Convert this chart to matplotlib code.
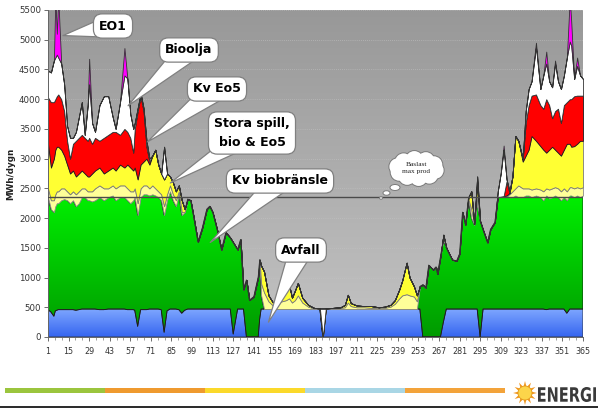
import numpy as np
import matplotlib
matplotlib.use("Agg")
import matplotlib.pyplot as plt
from matplotlib.colors import LinearSegmentedColormap
from matplotlib.patches import Rectangle, Ellipse, Polygon, Circle, PathPatch
from matplotlib.path import Path
from matplotlib.textpath import TextPath
from matplotlib.font_manager import FontProperties
from matplotlib.transforms import Affine2D

# day of year (irregular sampling)
days = [1, 3, 5, 6, 7, 8, 10, 12, 14, 16,
        18, 20, 22, 24, 26, 28, 29, 31, 33, 36,
        39, 42, 45, 47, 50, 53, 55, 57, 59, 60,
        62, 64, 66, 68, 70, 72, 74, 76, 78, 80,
        82, 84, 86, 88, 90, 92, 94, 96, 98, 100,
        103, 106, 109, 111, 113, 116, 119, 122, 125, 127,
        130, 132, 134, 136, 138, 141, 144, 145, 146, 148,
        151, 154, 157, 160, 163, 165, 167, 169, 171, 174,
        178, 182, 186, 188, 190, 195, 200, 203, 205, 207,
        211, 216, 221, 226, 230, 234, 237, 240, 242, 245,
        247, 250, 252, 254, 256, 258, 260, 263, 265, 266,
        268, 270, 272, 274, 276, 279, 281, 283, 285, 287,
        289, 291, 293, 295, 297, 300, 302, 305, 307, 309,
        311, 313, 315, 317, 319, 321, 324, 326, 328, 330,
        333, 336, 338, 340, 342, 344, 346, 348, 350, 352,
        354, 356, 357, 359, 361, 363, 365]

# MWh/dygn per production source (stacked)
avfall = [460, 420, 350, 440, 450, 460, 460, 460, 460, 460,
          460, 450, 460, 470, 470, 470, 470, 470, 470, 460,
          460, 470, 470, 470, 470, 470, 460, 460, 460, 450,
          180, 460, 460, 460, 470, 470, 470, 470, 460, 80,
          440, 470, 470, 470, 460, 400, 450, 470, 470, 470,
          470, 470, 470, 470, 470, 470, 470, 470, 470, 50,
          470, 470, 470, 0, 0, 0, 0, 300, 470, 470,
          470, 470, 470, 470, 470, 470, 470, 470, 470, 470,
          470, 470, 470, 0, 470, 470, 470, 470, 470, 470,
          470, 470, 470, 470, 470, 470, 470, 470, 470, 470,
          470, 470, 470, 470, 0, 0, 0, 0, 0, 0,
          0, 250, 470, 470, 470, 470, 470, 470, 470, 470,
          470, 470, 470, 0, 470, 470, 470, 470, 470, 470,
          470, 470, 470, 470, 470, 470, 470, 470, 470, 470,
          470, 470, 470, 460, 470, 470, 470, 470, 470, 470,
          400, 470, 470, 470, 470, 470, 470]
kv_bio = [1890, 1730, 1750, 1760, 1800, 1790, 1840, 1860, 1840, 1790,
          1840, 1750, 1790, 1880, 1880, 1830, 1830, 1810, 1830, 1890,
          1840, 1880, 1910, 1830, 1880, 1880, 1840, 1790, 1840, 1900,
          1870, 1890, 1940, 1940, 1910, 1930, 1910, 1880, 1840, 1970,
          1860, 1980, 1830, 1730, 1940, 1650, 1650, 1850, 1830, 1560,
          1130, 1370, 1680, 1730, 1630, 1340, 1000, 1290, 1200, 1540,
          1000, 1170, 330, 960, 620, 680, 1010, 1000, 230, 0,
          0, 0, 0, 0, 0, 0, 0, 0, 0, 0,
          0, 0, 0, 0, 0, 0, 0, 0, 0, 0,
          0, 0, 0, 0, 0, 0, 0, 0, 0, 0,
          0, 0, 0, 380, 880, 830, 1210, 1130, 1180, 1060,
          1350, 1390, 1030, 930, 830, 810, 930, 1630, 1420, 1850,
          1530, 1420, 1780, 1950, 1330, 1120, 1340, 1460, 1880, 1890,
          1900, 1910, 1880, 1880, 1910, 1880, 1880, 1910, 1910, 1880,
          1910, 1880, 1830, 1920, 1860, 1880, 1910, 1880, 1830, 1880,
          1900, 1910, 1910, 1880, 1910, 1880, 1910]
stora_spill = [150, 150, 200, 200, 200, 200, 200, 180, 150, 150,
               150, 200, 200, 150, 150, 150, 150, 170, 200, 200,
               200, 150, 170, 200, 200, 200, 200, 200, 150, 150,
               200, 150, 150, 150, 120, 150, 120, 100, 100, 150,
               100, 100, 100, 100, 50, 50, 0, 0, 0, 0,
               0, 0, 0, 0, 0, 0, 0, 0, 0, 0,
               0, 0, 0, 0, 0, 0, 0, 0, 200, 280,
               130, 60, 90, 130, 150, 180, 110, 150, 230, 110,
               40, 10, 10, 0, 10, 10, 20, 30, 110, 50,
               30, 30, 20, 20, 20, 40, 90, 180, 230, 250,
               230, 210, 130, 0, 0, 0, 0, 0, 0, 0,
               0, 40, 0, 0, 0, 0, 0, 0, 0, 0,
               150, 0, 100, 0, 0, 0, 0, 0, 0, 0,
               0, 0, 50, 100, 120, 200, 150, 120, 120, 130,
               120, 130, 150, 120, 150, 150, 140, 150, 150, 150,
               150, 140, 140, 150, 140, 150, 140]
bio = [750, 550, 700, 750, 750, 750, 650, 550, 450, 350,
       350, 300, 300, 300, 250, 250, 250, 300, 300, 300,
       250, 300, 300, 300, 350, 300, 400, 400, 350, 350,
       400, 400, 400, 450, 400, 500, 650, 450, 350, 450,
       350, 150, 200, 150, 100, 200, 50, 0, 0, 0,
       0, 0, 0, 0, 0, 0, 0, 0, 0, 0,
       0, 0, 0, 0, 0, 0, 0, 0, 300, 350,
       100, 50, 90, 150, 200, 230, 80, 160, 210, 80,
       30, 10, 0, 0, 0, 10, 10, 40, 130, 50,
       30, 20, 30, 10, 20, 30, 60, 150, 250, 530,
       300, 170, 100, 0, 0, 0, 0, 0, 0, 0,
       0, 40, 0, 0, 0, 0, 0, 0, 0, 30,
       300, 10, 250, 0, 0, 0, 0, 0, 0, 0,
       0, 0, 20, 250, 880, 750, 450, 550, 650, 900,
       800, 730, 700, 600, 670, 700, 630, 600, 600, 650,
       800, 730, 680, 710, 730, 800, 780]
kv_eo5 = [780, 1100, 950, 850, 850, 880, 850, 750, 400, 250,
          450, 600, 600, 600, 600, 600, 650, 500, 550, 450,
          600, 600, 600, 650, 500, 650, 550, 500, 300, 650,
          1150, 1150, 850, 200, 50, 0, 0, 0, 0, 0,
          0, 0, 0, 0, 0, 0, 0, 0, 0, 0,
          0, 0, 0, 0, 0, 0, 0, 0, 0, 0,
          0, 0, 0, 0, 0, 0, 0, 0, 0, 0,
          0, 0, 0, 0, 0, 0, 0, 0, 0, 0,
          0, 0, 0, 0, 0, 0, 0, 0, 0, 0,
          0, 0, 0, 0, 0, 0, 0, 0, 0, 0,
          0, 0, 0, 0, 0, 0, 0, 0, 0, 0,
          0, 0, 0, 0, 0, 0, 0, 0, 0, 0,
          0, 0, 0, 0, 0, 0, 0, 0, 0, 0,
          0, 240, 0, 0, 0, 0, 40, 550, 750, 680,
          780, 690, 690, 900, 750, 480, 650, 740, 550, 750,
          700, 750, 800, 840, 810, 760, 760]
bioolja = [450, 500, 700, 700, 700, 620, 600, 450, 250, 350,
           100, 150, 350, 550, 50, 600, 900, 350, 100, 600,
           700, 650, 250, 50, 550, 900, 900, 400, 400, 100,
           50, 50, 50, 100, 50, 0, 0, 0, 0, 550,
           0, 0, 0, 0, 0, 0, 0, 0, 0, 0,
           0, 0, 0, 0, 0, 0, 0, 0, 0, 0,
           0, 0, 0, 0, 0, 0, 0, 0, 0, 0,
           0, 0, 0, 0, 0, 0, 0, 0, 0, 0,
           0, 0, 0, 480, 0, 0, 0, 0, 0, 0,
           0, 0, 0, 0, 0, 0, 0, 0, 0, 0,
           0, 0, 0, 0, 0, 0, 0, 0, 0, 0,
           0, 0, 0, 0, 0, 0, 0, 0, 0, 0,
           0, 0, 100, 0, 0, 0, 0, 0, 100, 390,
           780, 30, 30, 0, 0, 0, 10, 200, 270, 240,
           800, 270, 560, 600, 400, 520, 800, 460, 570, 500,
           750, 970, 900, 290, 500, 340, 280]
eo1 = [0, 0, 0, 1000, 350, 1000, 0, 0, 0, 0,
       0, 0, 0, 0, 0, 0, 430, 0, 0, 0,
       0, 0, 0, 0, 0, 460, 0, 0, 0, 0,
       0, 0, 0, 0, 0, 0, 0, 0, 0, 0,
       0, 0, 0, 0, 0, 0, 0, 0, 0, 0,
       0, 0, 0, 0, 0, 0, 0, 0, 0, 0,
       0, 0, 0, 0, 0, 0, 0, 0, 0, 0,
       0, 0, 0, 0, 0, 0, 0, 0, 0, 0,
       0, 0, 0, 0, 0, 0, 0, 0, 0, 0,
       0, 0, 0, 0, 0, 0, 0, 0, 0, 0,
       0, 0, 0, 0, 0, 0, 0, 0, 0, 0,
       0, 0, 0, 0, 0, 0, 0, 0, 0, 0,
       0, 0, 0, 0, 0, 0, 0, 0, 0, 0,
       70, 0, 0, 0, 0, 0, 0, 0, 0, 0,
       70, 0, 0, 200, 0, 0, 50, 0, 0, 0,
       0, 730, 400, 0, 140, 0, 0]

baslast = 2350
x_ticks = list(range(1, 366, 14))
y_ticks = list(range(0, 5501, 500))

W, H = 598, 408
fig = plt.figure(figsize=(W / 100, H / 100), dpi=100)
ax = fig.add_axes([48 / W, 1 - 337 / H, (583 - 48) / W, (337 - 10) / H])

# gray gradient plot area
bg = LinearSegmentedColormap.from_list("bg", ["#c3c3c3", "#989898"])
ax.imshow(np.linspace(0, 1, 256).reshape(-1, 1), cmap=bg, origin="lower",
          extent=[1, 365, 0, 5500], aspect="auto", zorder=0)

layers = [avfall, kv_bio, stora_spill, bio, kv_eo5, bioolja, eo1]
faces = ["#4f7ff8", "#00d000", "#ffff99", "#ffff33", "#ff0000", "#ffffff", "#ff00ff"]
edges = ["#333333", "#1a1a1a", "#8c8c8c", "#7a7a7a", "#1a1a1a", "#333333", "#333333"]
polys = ax.stackplot(days, *layers, colors=faces, linewidth=0.6, zorder=2)
for p, ec in zip(polys, edges):
    p.set_edgecolor(ec)


def gradient_fill(poly, c_bot, c_top, y0, y1):
    cmap = LinearSegmentedColormap.from_list("g", [c_bot, c_top])
    im = ax.imshow(np.linspace(0, 1, 256).reshape(-1, 1), cmap=cmap, origin="lower",
                   extent=[1, 365, y0, y1], aspect="auto", zorder=1.9)
    path = Path.make_compound_path(*poly.get_paths())
    im.set_clip_path(path, transform=poly.get_transform())
    poly.set_facecolor("none")


gradient_fill(polys[0], "#3565f0", "#80a8ff", 0, 480)
gradient_fill(polys[1], "#009a00", "#00f200", 0, 2450)

ax.axhline(baslast, color="#4a4a4a", lw=1.0, zorder=4)

ax.set_xlim(1, 365)
ax.set_ylim(0, 5500)
ax.set_axisbelow(True)
ax.yaxis.grid(True, linestyle=(0, (1, 2)), color="#c4c4c4", lw=0.5)
ax.set_xticks(x_ticks)
ax.set_yticks(y_ticks)
ax.set_xticks(np.arange(1, 366, 14 / 3), minor=True)
ax.tick_params(axis="x", labelsize=5.8, colors="#333333", length=3, width=0.5, pad=4)
ax.tick_params(axis="x", which="minor", length=2, width=0.4, colors="#555555")
ax.tick_params(axis="y", labelsize=6.2, colors="#333333", length=3, width=0.5, pad=2)
for s in ["top", "right"]:
    ax.spines[s].set_visible(False)
for s in ["left", "bottom"]:
    ax.spines[s].set_color("#666666")
    ax.spines[s].set_linewidth(0.7)
ax.set_ylabel("MWh/dygn", fontsize=6.3, fontweight="bold", color="#222222", labelpad=3)

# overlay in pixel coordinates for decoration
ov = fig.add_axes([0, 0, 1, 1], zorder=10)
ov.set_xlim(0, W)
ov.set_ylim(H, 0)
ov.axis("off")
ov.patch.set_alpha(0)


def callout(text, tip, center):
    ax.annotate(text, xy=tip, xycoords="data", xytext=center, textcoords=ov.transData,
                ha="center", va="center", fontsize=9, fontweight="bold", zorder=6,
                linespacing=1.5,
                bbox=dict(boxstyle="round,pad=0.45,rounding_size=0.7", fc="white",
                          ec="#808080", lw=0.9),
                arrowprops=dict(arrowstyle="wedge,tail_width=1.2,shrink_factor=0.5",
                                fc="white", ec="#808080", lw=0.9, patchA=None,
                                shrinkA=0, shrinkB=0, relpos=(0.5, 0.5), mutation_scale=14))


callout("EO1", (11.2, 5070), (113, 26))
callout("Bioolja", (55.5, 3890), (189, 50))
callout("Kv Eo5", (68.5, 3280), (217, 89))
callout("Stora spill,\nbio & Eo5", (84.2, 2590), (252, 133))
callout("Kv biobränsle", (111.4, 1590), (280, 181))
callout("Avfall", (151, 250), (301, 250))

# thought cloud
cx, cy, rx, ry = 416.5, 168.5, 19, 9
angles = np.linspace(0, 2 * np.pi, 10, endpoint=False) + 0.2
bumps = [(cx + rx * np.cos(a), cy + ry * np.sin(a)) for a in angles]
for (bx, by) in bumps:
    ov.add_patch(Circle((bx, by), 8.5, fc="white", ec="#7a7a7a", lw=1.4, zorder=1))
for (bx, by) in bumps:
    ov.add_patch(Circle((bx, by), 8.5, fc="white", ec="none", zorder=2))
ov.add_patch(Ellipse((cx, cy), 2 * rx + 6, 2 * ry + 6, fc="white", ec="none", zorder=2))
for (ex, ey, ew, eh) in [(395, 187.5, 10, 6), (386.5, 193, 7, 4.5), (381, 198, 3, 2.5)]:
    ov.add_patch(Ellipse((ex, ey), ew, eh, fc="white", ec="#7a7a7a", lw=0.7, zorder=2))
ov.text(cx, cy, "Baslast\nmax prod", ha="center", va="center", fontsize=5.3,
        family="Liberation Serif", color="#222222", linespacing=1.5, zorder=3)

# bottom stripe
stripe = ["#9bc53d", "#ef9a2f", "#fbd92a", "#a9d6e5", "#f3a33a"]
for i, c in enumerate(stripe):
    ov.add_patch(Rectangle((5 + i * 100, 388), 100, 5, fc=c, ec="none"))
ov.add_patch(Rectangle((0, 405.5), W, 2.5, fc="#2e2e2e", ec="none"))

# sun logo
sx, sy = 525, 393
for k in range(12):
    a = 2 * np.pi * k / 12
    b = 2 * np.pi / 24
    pts = [(sx + 6 * np.cos(a - b), sy + 6 * np.sin(a - b)),
           (sx + 12 * np.cos(a), sy + 12 * np.sin(a)),
           (sx + 6 * np.cos(a + b), sy + 6 * np.sin(a + b))]
    ov.add_patch(Polygon(pts, fc="#f0951c", ec="none"))
ov.add_patch(Circle((sx, sy), 7, fc="#fcd54a", ec="#e39a1c", lw=0.6))

tp = TextPath((0, 0), "ENERGI", size=10, prop=FontProperties(family="DejaVu Sans", weight="bold"))
v = tp.vertices[tp.codes != Path.CLOSEPOLY]
x0, x1 = v[:, 0].min(), v[:, 0].max()
y0, y1 = v[:, 1].min(), v[:, 1].max()
tr = (Affine2D().translate(-x0, -y0)
      .scale(58 / (x1 - x0), -15 / (y1 - y0)).translate(538, 402))
ov.add_patch(PathPatch(tr.transform_path(tp), fc="#3a3a3a", ec="none", transform=ov.transData))

fig.savefig("out.png", dpi=100)
